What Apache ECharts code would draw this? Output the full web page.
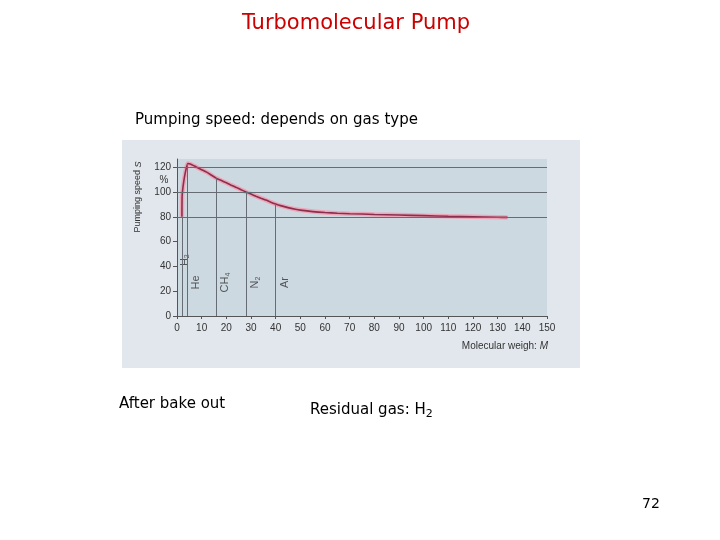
<!DOCTYPE html>
<html>
<head>
<meta charset="utf-8">
<script src="https://cdn.jsdelivr.net/npm/echarts@6/dist/echarts.min.js"></script>
<style>
html, body { margin: 0; padding: 0; background: #ffffff; }
#main { width: 720px; height: 540px; }
</style>
</head>
<body>
<div id="main"></div>
<script>
// pumping speed curve
var molWeight = [2, 2.05, 2.2, 2.7, 3.3, 4, 4.4, 5, 6, 8, 10, 12, 14, 16, 18, 20, 22, 24, 26, 28, 30, 32, 34, 36, 38, 40, 42, 45, 48, 50, 55, 60, 65, 70, 80, 90, 100, 110, 120, 130, 134];
var speed = [80, 95, 100, 108, 115, 121, 123, 122.7, 122, 120, 118, 116, 113.5, 111, 109.2, 107.4, 105.5, 103.7, 101.8, 100, 98.3, 96.6, 95, 93.5, 91.8, 90.3, 89, 87.4, 86.1, 85.4, 84.2, 83.4, 82.9, 82.5, 81.9, 81.4, 80.9, 80.4, 80, 79.6, 79.5];

// gases and where their lines meet the curve
var gasNames = ["H{s|2}", "He", "CH{s|4}", "N{s|2}", "Ar"];
var gasWeight = [2, 4, 16, 28, 40];
var gasTop = [80, 122.5, 111, 100, 90.3];

var gridLevels = [80, 100, 120];

var curve = molWeight.map(function (m, i) { return [m, speed[i]]; });

var chart = echarts.init(document.getElementById("main"));
chart.setOption({
  backgroundColor: "#ffffff",
  animation: false,
  graphic: [
    {
      type: "rect",
      shape: { x: 122, y: 140, width: 458, height: 228 },
      style: { fill: "#e1e7ed" },
      z: -10
    },
    {
      type: "text",
      x: 356, y: 24,
      style: { text: "Turbomolecular Pump", font: "21px 'DejaVu Sans'", fill: "#cc0000", align: "center", verticalAlign: "middle" }
    },
    {
      type: "text",
      x: 135, y: 120,
      style: { text: "Pumping speed: depends on gas type", font: "15px 'DejaVu Sans'", fill: "#000000", verticalAlign: "middle" }
    },
    {
      type: "text",
      x: 138, y: 197,
      rotation: Math.PI / 2,
      style: {
        text: "Pumping speed {i|S}",
        font: "9px 'Liberation Sans'",
        fill: "#333333",
        align: "center",
        verticalAlign: "middle",
        rich: { i: { fontStyle: "italic", fontSize: 9, fontFamily: "Liberation Sans", fill: "#333333" } }
      }
    },
    {
      type: "text",
      x: 164, y: 180,
      style: { text: "%", font: "10px 'Liberation Sans'", fill: "#333333", align: "center", verticalAlign: "middle" }
    },
    {
      type: "text",
      x: 548, y: 346,
      style: {
        text: "Molecular weigh: {i|M}",
        font: "10px 'Liberation Sans'",
        fill: "#333333",
        align: "right",
        verticalAlign: "middle",
        rich: { i: { fontStyle: "italic", fontSize: 10, fontFamily: "Liberation Sans", fill: "#333333" } }
      }
    },
    {
      type: "text",
      x: 119, y: 404,
      style: { text: "After bake out", font: "15px 'DejaVu Sans'", fill: "#000000", verticalAlign: "middle" }
    },
    {
      type: "text",
      x: 310, y: 410,
      style: {
        text: "Residual gas: H{s|2}",
        font: "15px 'DejaVu Sans'",
        fill: "#000000",
        verticalAlign: "middle",
        rich: { s: { fontSize: 11, fontFamily: "DejaVu Sans", fill: "#000000", padding: [8, 0, 0, 0] } }
      }
    },
    {
      type: "text",
      x: 651, y: 504,
      style: { text: "72", font: "14px 'DejaVu Sans'", fill: "#000000", align: "center", verticalAlign: "middle" }
    }
  ],
  grid: {
    left: 177,
    right: 173,
    top: 159,
    bottom: 224,
    show: true,
    backgroundColor: "#cdd9e1",
    borderWidth: 0
  },
  xAxis: {
    type: "value",
    min: 0,
    max: 150,
    interval: 10,
    axisLine: { lineStyle: { color: "#555555", width: 1 } },
    axisTick: { show: true, length: 3, lineStyle: { color: "#555555" } },
    axisLabel: {
      color: "#333333",
      fontSize: 10,
      fontFamily: "Liberation Sans",
      margin: 7
    },
    splitLine: { show: false }
  },
  yAxis: {
    type: "value",
    min: 0,
    max: 126.6,
    interval: 20,
    axisLine: { show: true, lineStyle: { color: "#555555", width: 1 } },
    axisTick: { show: true, length: 4, lineStyle: { color: "#555555" } },
    axisLabel: {
      color: "#333333",
      fontSize: 10,
      fontFamily: "Liberation Sans",
      margin: 6,
      showMaxLabel: false,
      formatter: function (v) { return v % 20 === 0 ? String(v) : ""; }
    },
    splitLine: { show: false }
  },
  series: [
    {
      // horizontal reference lines and gas lines
      type: "line",
      data: [],
      silent: true,
      markLine: {
        symbol: "none",
        silent: true,
        label: { show: false },
        lineStyle: { color: "#656c73", width: 1, type: "solid" },
        data: gridLevels.map(function (v) {
          return [{ coord: [0, v] }, { coord: [150, v] }];
        }).concat(gasWeight.map(function (w, i) {
          return [{ coord: [w, 0] }, { coord: [w, gasTop[i]] }];
        }))
      }
    },
    {
      // gas labels, set beside their lines
      type: "scatter",
      symbolSize: 0,
      silent: true,
      data: gasWeight.map(function (w, i) { return [w, i === 0 ? 45 : 27]; }),
      label: {
        show: true,
        position: "inside",
        rotate: 90,
        align: "center",
        verticalAlign: "middle",
        color: "#333333",
        fontSize: 11,
        fontFamily: "Liberation Sans",
        formatter: function (p) { return gasNames[p.dataIndex]; },
        rich: { s: { fontSize: 7, fontFamily: "Liberation Sans", color: "#333333", padding: [5, 0, 0, 0] } }
      },
      labelLayout: function (p) {
        return { x: p.rect.x + p.rect.width / 2 + (p.dataIndex === 0 ? 3 : 9) };
      }
    },
    {
      // pink halo
      type: "line",
      data: curve,
      showSymbol: false,
      smooth: 0.2,
      silent: true,
      lineStyle: { color: "#eca6b7", width: 4.5 },
      z: 3
    },
    {
      type: "line",
      data: curve,
      showSymbol: false,
      smooth: 0.2,
      silent: true,
      lineStyle: { color: "#8c2f4f", width: 1.6 },
      z: 4
    }
  ]
});
</script>
</body>
</html>
